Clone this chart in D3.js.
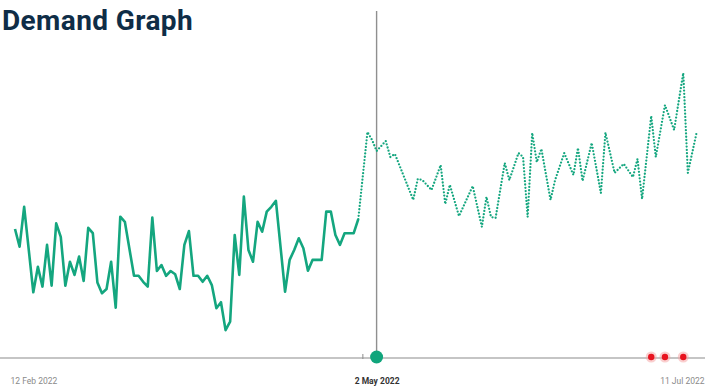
<!DOCTYPE html>
<html>
<head>
<meta charset="utf-8">
<script src="https://cdn.jsdelivr.net/npm/d3@7"></script>
<style>
  html, body { margin: 0; padding: 0; background: #ffffff; }
  svg { display: block; }
</style>
</head>
<body>
<svg id="chart" width="705" height="386"></svg>
<script>
// ---- data ----
const actualDates = ["2022-02-12","2022-02-13","2022-02-14","2022-02-16","2022-02-17","2022-02-18","2022-02-19","2022-02-20","2022-02-21","2022-02-22","2022-02-23","2022-02-24","2022-02-25","2022-02-26","2022-02-27","2022-02-28","2022-03-01","2022-03-02","2022-03-03","2022-03-04","2022-03-05","2022-03-06","2022-03-07","2022-03-08","2022-03-10","2022-03-11","2022-03-12","2022-03-13","2022-03-14","2022-03-15","2022-03-16","2022-03-17","2022-03-18","2022-03-19","2022-03-20","2022-03-21","2022-03-22","2022-03-23","2022-03-24","2022-03-25","2022-03-26","2022-03-27","2022-03-28","2022-03-29","2022-03-30","2022-03-31","2022-04-01","2022-04-02","2022-04-03","2022-04-04","2022-04-05","2022-04-06","2022-04-07","2022-04-08","2022-04-09","2022-04-10","2022-04-12","2022-04-13","2022-04-14","2022-04-15","2022-04-16","2022-04-17","2022-04-18","2022-04-19","2022-04-20","2022-04-21","2022-04-22","2022-04-23","2022-04-24","2022-04-25","2022-04-26","2022-04-27","2022-04-28"];
const actualValues = [43.0,37.1,50.4,21.9,30.4,23.8,37.7,24.1,44.9,40.4,24.1,32.1,27.7,33.8,25.7,43.4,41.6,25.2,21.6,23.0,32.1,16.8,47.1,45.4,27.4,27.4,25.4,23.8,46.8,29.0,31.0,27.4,29.0,27.9,23.0,37.7,42.3,27.4,27.4,25.4,27.4,24.3,16.6,18.6,9.3,12.1,41.0,27.7,53.8,36.0,32.1,45.4,42.1,48.8,50.4,52.4,22.1,32.7,36.0,39.9,36.6,29.1,32.7,32.7,32.7,48.8,48.8,41.0,37.7,41.6,41.6,41.6,46.3];

const forecastDates = ["2022-04-28","2022-04-30","2022-05-01","2022-05-02","2022-05-04","2022-05-05","2022-05-06","2022-05-10","2022-05-11","2022-05-12","2022-05-14","2022-05-16","2022-05-17","2022-05-18","2022-05-20","2022-05-23","2022-05-25","2022-05-26","2022-05-27","2022-05-28","2022-05-30","2022-05-31","2022-06-02","2022-06-03","2022-06-04","2022-06-05","2022-06-06","2022-06-07","2022-06-09","2022-06-10","2022-06-12","2022-06-14","2022-06-15","2022-06-16","2022-06-18","2022-06-20","2022-06-21","2022-06-23","2022-06-25","2022-06-27","2022-06-28","2022-06-29","2022-07-01","2022-07-02","2022-07-04","2022-07-06","2022-07-08","2022-07-09","2022-07-11"];
const forecastValues = [46.3,75.3,72.7,69.0,72.3,67.0,68.0,52.7,59.7,59.3,56.0,64.3,51.3,57.7,47.3,57.3,43.7,53.7,47.0,46.7,65.0,59.3,68.3,67.0,47.0,75.0,65.3,69.7,52.7,59.3,68.3,61.0,70.0,59.0,71.7,55.0,75.1,61.7,64.7,60.3,66.3,53.0,80.7,67.0,84.3,76.0,95.0,61.7,75.7];

const domainDates = ["2022-02-12","2022-07-11"];
const tickDates = ["2022-02-12","2022-05-02","2022-07-11"];
const todayDate = "2022-05-02";
const markDate = "2022-04-29";
const alertDates = ["2022-07-01","2022-07-04","2022-07-08"];
const title = "Demand Graph";

// ---- drawing ----
const parse = d3.timeParse("%Y-%m-%d");
const fmt = d3.timeFormat("%-d %b %Y");
const svg = d3.select("#chart");
const W = 705, H = 386;
const baseY = 358;

const x = d3.scaleTime().domain(domainDates.map(parse)).range([15, 697]);
const y = d3.scaleLinear().domain([0, 100]).range([baseY, 58]);

const green = "#14a67f";

// title
svg.append("text")
  .attr("x", 2).attr("y", 29.5)
  .attr("text-anchor", "start")
  .attr("font-family", "Roboto, 'Open Sans', sans-serif")
  .attr("font-weight", 700)
  .attr("font-size", 28)
  .attr("letter-spacing", 0.4)
  .attr("fill", "#0f2d47")
  .text(title);

// axis baseline
svg.append("line")
  .attr("x1", 0).attr("x2", W)
  .attr("y1", baseY).attr("y2", baseY)
  .attr("stroke", "#8c8c8c").attr("stroke-width", 1.2);

// today vertical line
svg.append("line")
  .attr("x1", x(parse(todayDate))).attr("x2", x(parse(todayDate)))
  .attr("y1", 11).attr("y2", baseY)
  .attr("stroke", "#8f8f8f").attr("stroke-width", 1.4);

// lines
const line = d3.line()
  .x(d => x(d.date)).y(d => y(d.value));

const actual = actualDates.map((d, i) => ({ date: parse(d), value: actualValues[i] }));
const forecast = forecastDates.map((d, i) => ({ date: parse(d), value: forecastValues[i] }));

svg.append("path")
  .datum(actual)
  .attr("d", line)
  .attr("fill", "none")
  .attr("stroke", green)
  .attr("stroke-width", 2.6)
  .attr("stroke-linejoin", "round");

svg.append("path")
  .datum(forecast)
  .attr("d", line)
  .attr("fill", "none")
  .attr("stroke", green)
  .attr("stroke-width", 2.3)
  .attr("stroke-linecap", "round")
  .attr("stroke-dasharray", "0 3.3");

// small tick mark
svg.append("line")
  .attr("x1", x(parse(markDate))).attr("x2", x(parse(markDate)))
  .attr("y1", baseY - 4).attr("y2", baseY + 1)
  .attr("stroke", "#8c8c8c").attr("stroke-width", 1);

// today dot
svg.append("circle")
  .attr("cx", x(parse(todayDate))).attr("cy", baseY - 1)
  .attr("r", 6.5)
  .attr("fill", "#10a57c");

// alert dots
const alerts = svg.append("g");
alerts.selectAll("circle.halo")
  .data(alertDates).join("circle")
  .attr("class", "halo")
  .attr("cx", d => x(parse(d))).attr("cy", baseY - 1)
  .attr("r", 5.5)
  .attr("fill", "#f5a0a0").attr("opacity", 0.5);
alerts.selectAll("circle.dot")
  .data(alertDates).join("circle")
  .attr("class", "dot")
  .attr("cx", d => x(parse(d))).attr("cy", baseY - 1)
  .attr("r", 3.2)
  .attr("fill", "#e8131f");

// x axis labels
const axis = d3.axisBottom(x)
  .tickValues(tickDates.map(parse))
  .tickSize(0)
  .tickPadding(0)
  .tickFormat(fmt);

const gAxis = svg.append("g")
  .attr("transform", `translate(0, ${baseY})`)
  .call(axis);
gAxis.select(".domain").remove();
gAxis.selectAll("text")
  .attr("dy", null)
  .attr("y", 26)
  .attr("font-family", "Roboto, sans-serif")
  .attr("font-size", 8.5)
  .attr("fill", "#8a8a8a");
const labels = gAxis.selectAll("text").nodes();
d3.select(labels[0]).attr("text-anchor", "start").attr("x", -5);
d3.select(labels[1]).attr("font-weight", 700).attr("fill", "#333");
d3.select(labels[2]).attr("text-anchor", "end").attr("x", 7);
</script>
</body>
</html>
